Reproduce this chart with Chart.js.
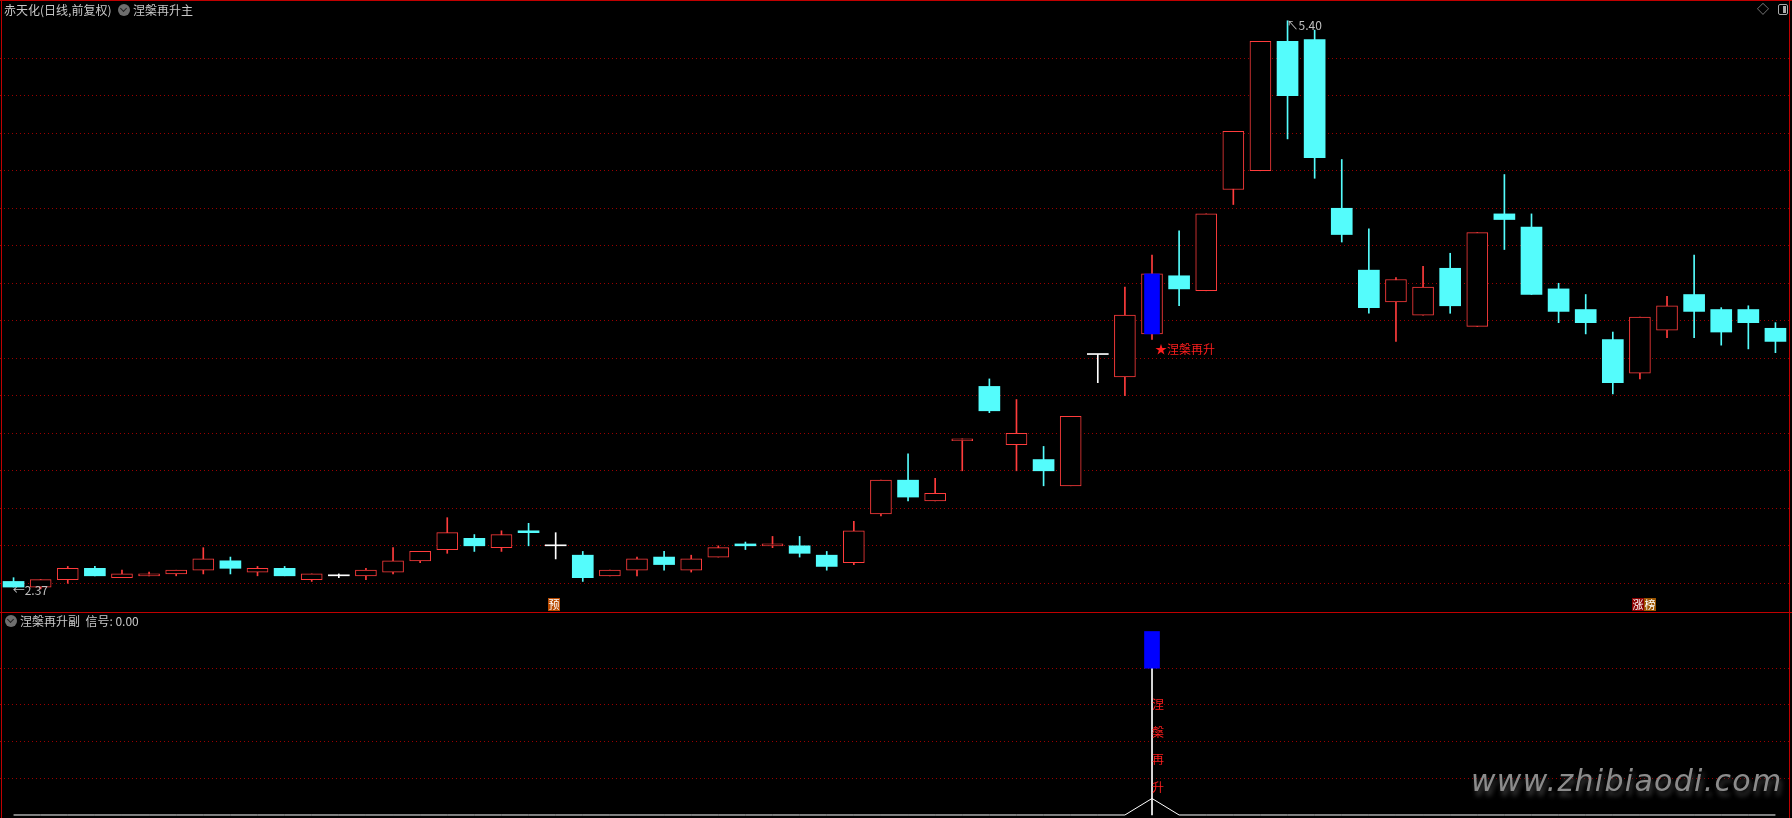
<!DOCTYPE html>
<html>
<head>
<meta charset="utf-8">
<title>赤天化 涅槃再升</title>
<script src="https://cdn.jsdelivr.net/npm/chart.js@4.4.1/dist/chart.umd.min.js"></script>
<style>
    body { margin: 0; background: #000; width: 1792px; height: 818px; overflow: hidden; position: relative; font-family: "Noto Sans CJK SC", sans-serif; }
    canvas { position: absolute; left: 0; }
    #mainChart { top: 2px; }
    #subChart { top: 613px; }
    .line { position: absolute; background: #c00000; z-index: 5; }
    .txt { position: absolute; color: #c8c8c8; font-size: 12px; line-height: 14px; white-space: nowrap; z-index: 6; }
    .icon { position: absolute; width: 12px; height: 12px; border-radius: 50%; background: #6e6e6e; z-index: 6; }
    .icon::after { content: ""; position: absolute; left: 3px; top: 2px; width: 4px; height: 4px; border-right: 1.5px solid #222; border-bottom: 1.5px solid #222; transform: rotate(45deg); }
    .mark { position: absolute; top: 598px; height: 13px; width: 12px; font-size: 11px; line-height: 13px; text-align: center; color: #fff; z-index: 6; }
    #watermark { position: absolute; left: 1471px; top: 763px; font: italic 30px "DejaVu Sans", sans-serif; letter-spacing: 1.3px; color: #8c8c8c; text-shadow: 2px 5px 5px rgba(70, 70, 70, 0.9); z-index: 4; }
    #boxIcon { position: absolute; left: 1778px; top: 4px; width: 8px; height: 9px; border: 1px solid #aaa; border-radius: 2px; z-index: 6; }
    #boxIcon::after { content: ""; position: absolute; left: 4px; top: 1px; width: 3px; height: 7px; background: #aaa; }
</style>
</head>
<body>
<canvas id="mainChart" width="1789" height="610"></canvas>
<canvas id="subChart" width="1789" height="205"></canvas>

<div class="line" style="left:0;top:0;width:1792px;height:1px"></div>
<div class="line" style="left:1px;top:0;width:1px;height:818px"></div>
<div class="line" style="left:1789px;top:0;width:1px;height:818px"></div>
<div class="line" style="left:0;top:612px;width:1792px;height:1px"></div>

<div class="txt" style="left:4px;top:3px">赤天化(日线,前复权)</div>
<div class="icon" style="left:118px;top:4px"></div>
<div class="txt" style="left:133px;top:3px">涅槃再升主</div>
<div class="txt" style="left:1757px;top:2px;color:#999">◇</div>
<div id="boxIcon"></div>

<div class="icon" style="left:5px;top:615px"></div>
<div class="txt" style="left:20px;top:614px">涅槃再升副&nbsp;&nbsp;信号: 0.00</div>

<div class="mark" style="left:548px;background:#b84a00">预</div>
<div class="mark" style="left:1632px;background:#8b0000">涨</div>
<div class="mark" style="left:1644px;background:#9a5400">榜</div>

<div id="watermark">www.zhibiaodi.com</div>

<script>
// daily candles
const opens  = [2.41, 2.38, 2.42, 2.48, 2.43, 2.44, 2.45, 2.47, 2.52, 2.46, 2.48, 2.42, 2.44, 2.44, 2.46, 2.52, 2.58, 2.64, 2.59, 2.68, 2.60, 2.55,
                2.44, 2.47, 2.54, 2.47, 2.54, 2.61, 2.60, 2.60, 2.55, 2.51, 2.77, 2.95, 2.84, 3.16, 3.45, 3.14, 3.06, 2.92, 3.62, 3.50, 3.73, 4.04,
                3.96, 4.50, 4.60, 5.29, 5.30, 4.40, 4.07, 3.90, 3.83, 4.08, 3.77, 4.37, 4.30, 3.97, 3.86, 3.70, 3.52, 3.75, 3.94, 3.86, 3.86, 3.76];
const closes = [2.38, 2.42, 2.48, 2.44, 2.45, 2.45, 2.47, 2.53, 2.48, 2.48, 2.44, 2.45, 2.44, 2.47, 2.52, 2.57, 2.67, 2.60, 2.66, 2.67, 2.60, 2.43,
                2.47, 2.53, 2.50, 2.53, 2.59, 2.60, 2.61, 2.56, 2.49, 2.68, 2.95, 2.86, 2.88, 3.17, 3.32, 3.20, 3.00, 3.29, 3.62, 3.83, 4.05, 3.97,
                4.37, 4.81, 5.29, 5.00, 4.67, 4.26, 3.87, 4.02, 3.98, 3.88, 4.27, 4.34, 3.94, 3.85, 3.79, 3.47, 3.82, 3.88, 3.85, 3.74, 3.79, 3.69];
const highs  = [2.43, 2.42, 2.49, 2.49, 2.47, 2.46, 2.47, 2.59, 2.54, 2.49, 2.49, 2.45, 2.45, 2.48, 2.59, 2.57, 2.75, 2.66, 2.68, 2.72, 2.67, 2.57,
                2.47, 2.54, 2.57, 2.55, 2.60, 2.62, 2.65, 2.65, 2.57, 2.73, 2.95, 3.09, 2.96, 3.17, 3.49, 3.38, 3.13, 3.29, 3.62, 3.98, 4.15, 4.28,
                4.37, 4.81, 5.29, 5.40, 5.35, 4.66, 4.29, 4.03, 4.09, 4.16, 4.27, 4.58, 4.37, 4.00, 3.94, 3.74, 3.82, 3.93, 4.15, 3.87, 3.88, 3.79];
const lows   = [2.38, 2.37, 2.40, 2.44, 2.43, 2.44, 2.44, 2.45, 2.45, 2.44, 2.44, 2.41, 2.43, 2.42, 2.45, 2.51, 2.56, 2.57, 2.57, 2.60, 2.53, 2.41,
                2.44, 2.44, 2.47, 2.46, 2.54, 2.58, 2.59, 2.54, 2.47, 2.50, 2.76, 2.84, 2.84, 3.00, 3.31, 3.00, 2.92, 2.92, 3.47, 3.40, 3.70, 3.88,
                3.96, 4.42, 4.60, 4.77, 4.56, 4.22, 3.84, 3.69, 3.83, 3.84, 3.77, 4.18, 3.94, 3.79, 3.73, 3.41, 3.49, 3.71, 3.71, 3.67, 3.65, 3.63];

// candle where the 涅槃再升 signal fires
const signalIndex = 42;
const signalText = "涅槃再升";

// main panel price grid and range
const gridPrices = [2.4, 2.6, 2.8, 3.0, 3.2, 3.4, 3.6, 3.8, 4.0, 4.2, 4.4, 4.6, 4.8, 5.0, 5.2];
const priceMin = 2.247;
const priceMax = 5.5;

// lower panel: signal curve, stick and block
const signalLine = opens.map((_, i) => i === signalIndex ? 0.45 : 0);
const stickRange = [0, 4];
const blockRange = [4, 5];
const subGrid = [1, 2, 3, 4];
const subMin = -0.082;
const subMax = 5.504;

const upColor = "#ff3c3c";
const downColor = "#54fcfc";
const dojiColor = "#ffffff";
const gridColor = "#9a0000";
const labelFont = "12px 'Noto Sans CJK SC', sans-serif";

const labels = opens.map((_, i) => String(i + 1));

function candle_color(i) {
    if (closes[i] > opens[i]) return upColor;
    if (closes[i] < opens[i]) return downColor;
    return dojiColor;
}

const strokeColors = opens.map((_, i) => candle_color(i));
const fillColors = opens.map((_, i) => closes[i] > opens[i] ? "#000000" : candle_color(i));
const borderWidths = opens.map((_, i) => closes[i] > opens[i] ? 1 : 0);

function set_grid(values) {
    return scale => { scale.ticks = values.map(v => ({ value: v })); };
}

const priceLabels = {
    id: "priceLabels",
    afterDatasetsDraw(chart) {
        const { ctx, scales: { x, y } } = chart;
        ctx.save();
        ctx.font = labelFont;
        ctx.textBaseline = "middle";
        ctx.textAlign = "left";

        // signal caption under the signal candle
        ctx.fillStyle = "#ff1e1e";
        ctx.fillText("★" + signalText, x.getPixelForValue(signalIndex) + 3, y.getPixelForValue(lows[signalIndex]) + 10);

        // highest high and lowest low
        const hi = highs.indexOf(Math.max(...highs));
        const lo = lows.indexOf(Math.min(...lows));
        ctx.fillStyle = "#c0c0c0";
        ctx.fillText("↖" + highs[hi].toFixed(2), x.getPixelForValue(hi) - 1, y.getPixelForValue(highs[hi]) + 5);
        ctx.fillText("←" + lows[lo].toFixed(2), x.getPixelForValue(lo) - 28, y.getPixelForValue(lows[lo]) + 2);
        ctx.restore();
    }
};

const signalLabels = {
    id: "signalLabels",
    afterDatasetsDraw(chart) {
        const { ctx, scales: { x, y } } = chart;
        ctx.save();
        ctx.font = labelFont;
        ctx.textBaseline = "middle";
        ctx.fillStyle = "#ff1e1e";
        const left = x.getPixelForValue(signalIndex);
        const top = y.getPixelForValue(3);
        [...signalText].forEach((ch, k) => ctx.fillText(ch, left, top + k * 27.5));
        ctx.restore();
    }
};

new Chart(document.getElementById("mainChart"), {
    type: "bar",
    data: {
        labels: labels,
        datasets: [
            {
                label: "wick",
                data: lows.map((l, i) => [l, highs[i]]),
                backgroundColor: strokeColors,
                barThickness: 1,
                grouped: false,
                order: 3
            },
            {
                label: "body",
                data: opens.map((o, i) => [o, closes[i]]),
                backgroundColor: fillColors,
                borderColor: strokeColors,
                borderWidth: borderWidths,
                borderSkipped: false,
                barThickness: 21,
                minBarLength: 1,
                grouped: false,
                order: 2
            },
            {
                label: "signal",
                data: opens.map((o, i) => i === signalIndex ? [o, closes[i]] : null),
                backgroundColor: "#0000ff",
                barThickness: 15,
                grouped: false,
                order: 1
            }
        ]
    },
    options: {
        responsive: false,
        animation: false,
        events: [],
        layout: { padding: 0 },
        plugins: {
            legend: { display: false },
            tooltip: { enabled: false }
        },
        scales: {
            x: { display: false },
            y: {
                min: priceMin,
                max: priceMax,
                afterBuildTicks: set_grid(gridPrices),
                ticks: { display: false },
                grid: { color: gridColor, drawTicks: false },
                border: { display: false, dash: [1, 3] }
            }
        }
    },
    plugins: [priceLabels]
});

new Chart(document.getElementById("subChart"), {
    type: "bar",
    data: {
        labels: labels,
        datasets: [
            {
                type: "line",
                label: "signal line",
                data: signalLine,
                borderColor: "#ffffff",
                borderWidth: 1,
                pointRadius: 0,
                tension: 0,
                order: 3
            },
            {
                label: "stick",
                data: opens.map((_, i) => i === signalIndex ? stickRange : null),
                backgroundColor: "#ffffff",
                barThickness: 1,
                grouped: false,
                order: 2
            },
            {
                label: "block",
                data: opens.map((_, i) => i === signalIndex ? blockRange : null),
                backgroundColor: "#0000ff",
                barThickness: 15,
                grouped: false,
                order: 1
            }
        ]
    },
    options: {
        responsive: false,
        animation: false,
        events: [],
        layout: { padding: 0 },
        plugins: {
            legend: { display: false },
            tooltip: { enabled: false }
        },
        scales: {
            x: { display: false },
            y: {
                min: subMin,
                max: subMax,
                afterBuildTicks: set_grid(subGrid),
                ticks: { display: false },
                grid: { color: gridColor, drawTicks: false },
                border: { display: false, dash: [1, 3] }
            }
        }
    },
    plugins: [signalLabels]
});
</script>
</body>
</html>
